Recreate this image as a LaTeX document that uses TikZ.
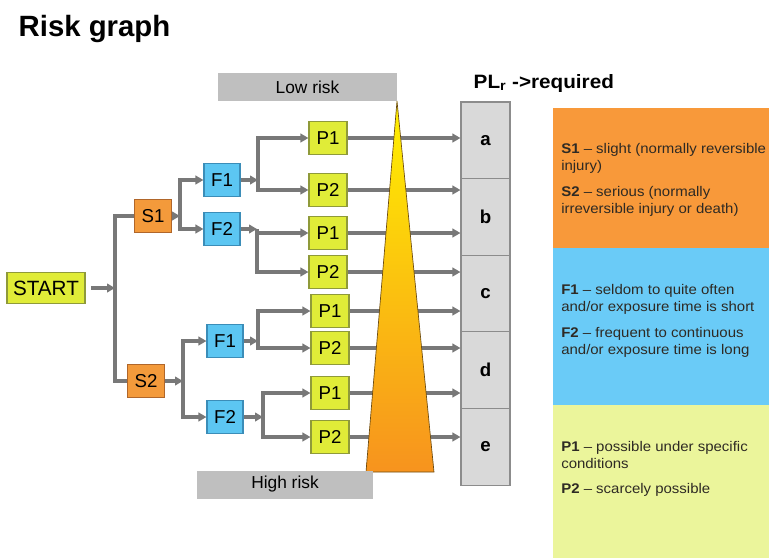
\documentclass[tikz,border=0pt]{standalone}
\usepackage{fontspec}
\setmainfont{Liberation Sans}
\newfontfamily\widesans[FakeStretch=1.07]{Liberation Sans}
\usetikzlibrary{arrows.meta,positioning,calc}
\definecolor{LinkGrey}{HTML}{787878}
\definecolor{LimeFill}{HTML}{E0EC38}
\definecolor{LimeEdge}{HTML}{8F9A3A}
\definecolor{OrangeFill}{HTML}{F39A3B}
\definecolor{OrangeEdge}{HTML}{B0662A}
\definecolor{BlueFill}{HTML}{5CC6F2}
\definecolor{BlueEdge}{HTML}{3B8DB8}
\definecolor{BandGrey}{HTML}{BFBFBF}
\definecolor{CellFill}{HTML}{D9D9D9}
\definecolor{CellEdge}{HTML}{8C8C8C}
\definecolor{PanelOrange}{HTML}{F8993A}
\definecolor{PanelBlue}{HTML}{6ACBF7}
\definecolor{PanelGreen}{HTML}{EBF59B}
\definecolor{PanelInk}{HTML}{2E2A24}
\definecolor{TriTop}{HTML}{FFF100}
\definecolor{TriBottom}{HTML}{F7931E}
\definecolor{TriEdge}{HTML}{6B4A10}

\begin{document}
\begin{tikzpicture}[x=0.75pt,y=-0.75pt, every node/.style={font=\fontsize{14}{16}\selectfont},
  riskbox/.style={draw, line width=0.8pt, inner sep=0pt, minimum height=24.75pt},
  pbox/.style={riskbox, fill=LimeFill, draw=LimeEdge, minimum width=28.5pt},
  sbox/.style={riskbox, fill=OrangeFill, draw=OrangeEdge, minimum width=27.75pt},
  fbox/.style={riskbox, fill=BlueFill, draw=BlueEdge, minimum width=27pt},
  link/.style={draw=LinkGrey, line width=2.4pt},
  linkarrow/.style={link, -{Triangle[length=6pt,width=6.5pt]}},
  cell/.style={draw=CellEdge, fill=CellFill, line width=0.8pt, inner sep=0pt, minimum width=36.75pt, minimum height=57.5pt, font=\bfseries\fontsize{14}{16}\selectfont},
  band/.style={fill=BandGrey, inner sep=0pt, minimum height=21pt, font=\fontsize{13}{15}\selectfont},
  paneltext/.style={anchor=west, align=left, inner sep=0pt, text=PanelInk, font=\widesans\fontsize{10.5}{13}\selectfont}]
  \useasboundingbox (0,0) rectangle (769,558);
  \node[anchor=base west, font=\bfseries\fontsize{22}{26}\selectfont] (title) at (14,36) {Risk graph};
  % legend panels
  \fill[PanelOrange] (553,108) rectangle (769,248);
  \fill[PanelBlue] (553,248) rectangle (769,405);
  \fill[PanelGreen] (553,405) rectangle (769,558);
  \node[paneltext] (stext) at (561,180) {\textbf{S1} – slight (normally reversible\\injury)\\[6pt]\textbf{S2} – serious (normally\\irreversible injury or death)};
  \node[paneltext] (ftext) at (561,321) {\textbf{F1} – seldom to quite often\\and/or exposure time is short\\[6pt]\textbf{F2} – frequent to continuous\\and/or exposure time is long};
  \node[paneltext] (ptext) at (561,469) {\textbf{P1} – possible under specific\\conditions\\[6pt]\textbf{P2} – scarcely possible};
  % required PL column
  \node[anchor=base west, font=\widesans\bfseries\fontsize{14.5}{17}\selectfont] (plr) at (469,88) {PL\textsubscript{r} ->required};
  \foreach \lbl/\yc in {a/140.3,b/216.9,c/293.5,d/370.1,e/446.7}
    \node[cell] (pl\lbl) at (485.5,\yc) {\lbl};
  % tree
  \node[riskbox, fill=LimeFill, draw=LimeEdge, minimum width=58.5pt, minimum height=23.25pt, font=\fontsize{15.5}{18}\selectfont] (start) at (46,288) {START};
  \node[sbox] (s1) at (153,216) {S1};
  \node[sbox] (s2) at (146,381) {S2};
  \node[fbox] (f1a) at (222,180) {F1};
  \node[fbox] (f2a) at (222,229) {F2};
  \node[fbox] (f1b) at (225,341) {F1};
  \node[fbox] (f2b) at (225,417) {F2};
  \foreach \n/\xc/\yc/\t in {1/328/138/P1,2/328/190/P2,3/328/233/P1,4/328/272/P2,5/330/311/P1,6/330/348/P2,7/330/393/P1,8/330/437/P2}
    \node[pbox] (p\n) at (\xc,\yc) {\t};
  \coordinate (jstart) at (115,288);
  \coordinate (js1) at (180,216);
  \coordinate (js2) at (183,381);
  \coordinate (jf1a) at (258,180);
  \coordinate (jf2a) at (257,229);
  \coordinate (jf1b) at (258,341);
  \coordinate (jf2b) at (263,417);
  \draw[linkarrow, shorten <=4pt] (start) -- (jstart);
  \draw[link] (s1) -| (jstart) |- (s2);
  \foreach \s/\j/\fa/\fb in {s1/js1/f1a/f2a,s2/js2/f1b/f2b}{
    \draw[linkarrow] (\s) -- (\j);
    \draw[linkarrow] (\j) |- (\fa);
    \draw[linkarrow] (\j) |- (\fb);
  }
  \foreach \f/\j/\pa/\pb in {f1a/jf1a/p1/p2,f2a/jf2a/p3/p4,f1b/jf1b/p5/p6,f2b/jf2b/p7/p8}{
    \draw[linkarrow] (\f) -- (\j);
    \draw[linkarrow] (\j) |- (\pa);
    \draw[linkarrow] (\j) |- (\pb);
  }
  \foreach \p/\c in {p1/pla,p2/plb,p3/plb,p4/plc,p5/plc,p6/pld,p7/pld,p8/ple}
    \draw[linkarrow] (\p) -- (\p -| \c.west);
  % risk wedge
  \shade[top color=TriTop, bottom color=TriBottom] (397,101) -- (434,472) -- (366,472) -- cycle;
  \draw[TriEdge, line width=0.5pt] (397,101) -- (434,472) -- (366,472) -- cycle;
  \node[band, minimum width=134.25pt] (lowrisk) at (307.5,87) {Low risk};
  \node[band, minimum width=132pt] (highrisk) at (285,484.5) {High risk};
\end{tikzpicture}
\end{document}
